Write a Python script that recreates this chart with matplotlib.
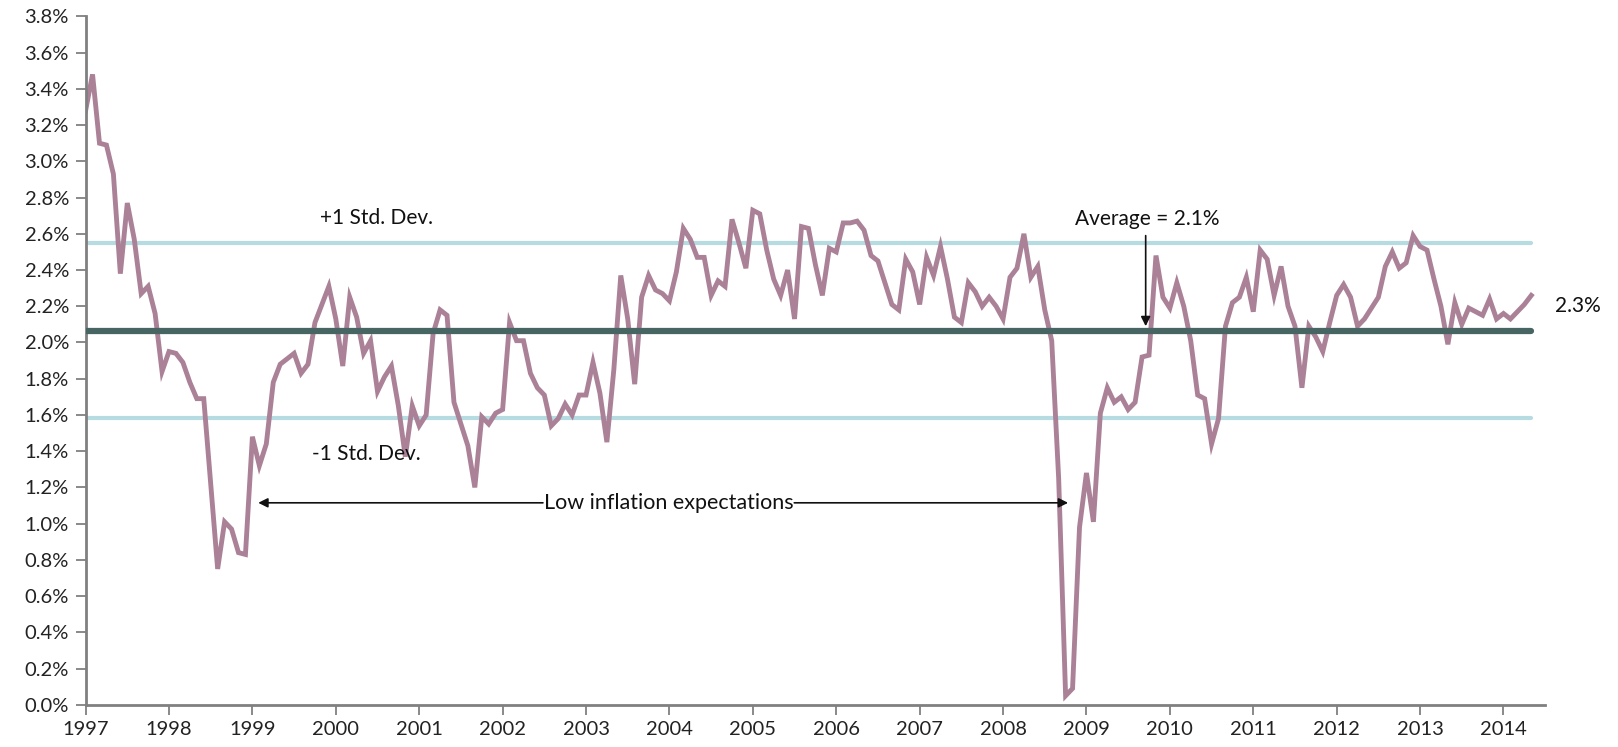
import matplotlib
matplotlib.use("Agg")
import matplotlib.pyplot as plt
import numpy as np

# Monthly breakeven inflation expectations (%), Jan 1997 - May 2014
values = [
    # 1997
    3.28, 3.48, 3.10, 3.09, 2.93, 2.38, 2.77, 2.57, 2.27, 2.31, 2.16, 1.84,
    # 1998
    1.95, 1.94, 1.89, 1.78, 1.69, 1.69, 1.22, 0.75, 1.01, 0.97, 0.84, 0.83,
    # 1999
    1.48, 1.32, 1.44, 1.78, 1.88, 1.91, 1.94, 1.83, 1.88, 2.11, 2.21, 2.31,
    # 2000
    2.13, 1.87, 2.25, 2.14, 1.94, 2.01, 1.73, 1.81, 1.87, 1.65, 1.37, 1.65,
    # 2001
    1.54, 1.60, 2.05, 2.18, 2.15, 1.67, 1.55, 1.43, 1.20, 1.59, 1.55, 1.61,
    # 2002
    1.63, 2.11, 2.01, 2.01, 1.83, 1.75, 1.71, 1.54, 1.58, 1.66, 1.60, 1.71,
    # 2003
    1.71, 1.89, 1.72, 1.45, 1.85, 2.37, 2.13, 1.77, 2.25, 2.37, 2.29, 2.27,
    # 2004
    2.23, 2.39, 2.63, 2.57, 2.47, 2.47, 2.26, 2.34, 2.31, 2.68, 2.55, 2.41,
    # 2005
    2.73, 2.71, 2.51, 2.35, 2.26, 2.40, 2.13, 2.64, 2.63, 2.43, 2.26, 2.52,
    # 2006
    2.50, 2.66, 2.66, 2.67, 2.62, 2.48, 2.45, 2.33, 2.21, 2.18, 2.46, 2.39,
    # 2007
    2.21, 2.47, 2.37, 2.53, 2.35, 2.14, 2.11, 2.33, 2.28, 2.20, 2.25, 2.20,
    # 2008
    2.13, 2.36, 2.41, 2.60, 2.36, 2.42, 2.18, 2.01, 1.25, 0.05, 0.09, 0.98,
    # 2009
    1.28, 1.01, 1.61, 1.75, 1.67, 1.70, 1.63, 1.67, 1.92, 1.93, 2.48, 2.25,
    # 2010
    2.19, 2.33, 2.20, 2.01, 1.71, 1.69, 1.44, 1.58, 2.09, 2.22, 2.25, 2.36,
    # 2011
    2.17, 2.51, 2.46, 2.26, 2.42, 2.20, 2.09, 1.75, 2.09, 2.03, 1.95, 2.11,
    # 2012
    2.26, 2.32, 2.25, 2.09, 2.13, 2.19, 2.25, 2.42, 2.50, 2.41, 2.44, 2.59,
    # 2013
    2.53, 2.51, 2.35, 2.20, 1.99, 2.22, 2.10, 2.19, 2.17, 2.15, 2.24, 2.13,
    # 2014
    2.16, 2.13, 2.17, 2.21, 2.26,
]
start_year = 1997
year_ticks = list(range(1997, 2015))
y_ticks = [i / 10 for i in range(0, 39, 2)]

avg_value = 2.066
std_dev = 0.485
last_label = "2.3%"

series_color = "#AB8198"
avg_color = "#476563"
sd_color = "#B6DBE0"
spine_color = "#808080"

plt.rcParams['font.family'] = ['Lato', 'DejaVu Sans']

x = start_year + np.arange(len(values)) / 12.0
y = np.array(values)

fig = plt.figure(figsize=(16.18, 7.47), dpi=100)
ax = fig.add_axes([0.0529, 0.0565, 0.9021, 0.9215])

x0, x1 = x[0], x[-1]
ax.plot([x0, x1], [avg_value + std_dev] * 2, color=sd_color, lw=3, zorder=1,
        solid_capstyle='round')
ax.plot([x0, x1], [avg_value - std_dev] * 2, color=sd_color, lw=3, zorder=1,
        solid_capstyle='round')
ax.plot([x0, x1], [avg_value] * 2, color=avg_color, lw=4.5, zorder=3,
        solid_capstyle='round')
ax.plot(x, y, color=series_color, lw=3.5, zorder=2, solid_joinstyle='miter')

ax.set_xlim(1997, 2014.5)
ax.set_ylim(0, 3.8)
ax.set_xticks(year_ticks)
ax.set_xticklabels([str(t) for t in year_ticks])
ax.set_yticks(y_ticks)
ax.set_yticklabels([f"{t:.1f}%" for t in y_ticks])

for s in ['top', 'right']:
    ax.spines[s].set_visible(False)
for s in ['left', 'bottom']:
    ax.spines[s].set_color(spine_color)
    ax.spines[s].set_linewidth(2)
ax.tick_params(axis='both', colors=spine_color, labelcolor='#222222',
               labelsize=14.5, length=7, width=1.3, direction='out')
ax.tick_params(axis='x', pad=5)
ax.tick_params(axis='y', pad=5)

txt_kw = dict(fontsize=15, color='#111111')
ax.text(1999.81, 2.69, "+1 Std. Dev.", ha='left', va='center', **txt_kw)
ax.text(1999.71, 1.385, "-1 Std. Dev.", ha='left', va='center', **txt_kw)

# Low inflation expectations annotation
low_y = 1.115
low_txt = ax.text(2003.99, low_y, "Low inflation expectations", ha='center',
                  va='center', fontsize=15.5, color='#111111')
fig.canvas.draw()
bb = low_txt.get_window_extent().transformed(ax.transData.inverted())
ax.annotate("", xy=(1999.07, low_y), xytext=(bb.x0 - 0.01, low_y),
            arrowprops=dict(arrowstyle='-|>', color='#111111', lw=1.2,
                            mutation_scale=14, shrinkA=0, shrinkB=0))
ax.annotate("", xy=(2008.78, low_y), xytext=(bb.x1 + 0.01, low_y),
            arrowprops=dict(arrowstyle='-|>', color='#111111', lw=1.2,
                            mutation_scale=14, shrinkA=0, shrinkB=0))

# Average annotation
ax.text(2009.73, 2.68, "Average = 2.1%", ha='center', va='center', **txt_kw)
ax.annotate("", xy=(2009.71, 2.09), xytext=(2009.71, 2.59),
            arrowprops=dict(arrowstyle='-|>', color='#111111', lw=1.2,
                            mutation_scale=14, shrinkA=0, shrinkB=0))

ax.text(2014.62, 2.2, last_label, ha='left', va='center', clip_on=False,
        **txt_kw)

fig.savefig("out.png", dpi=100)
